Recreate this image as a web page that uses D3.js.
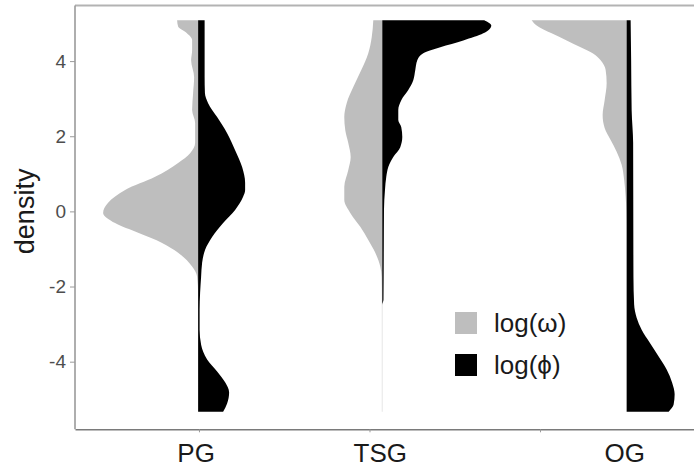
<!DOCTYPE html>
<html>
<head>
<meta charset="utf-8">
<script src="https://cdn.jsdelivr.net/npm/d3@7"></script>
<style>
  html, body { margin: 0; padding: 0; background: #fff; }
  svg { display: block; font-family: "Liberation Sans", Arial, sans-serif; }
</style>
</head>
<body>
<svg id="chart" width="694" height="467"></svg>
<script>
// Categories, their axis tick slots and where each split violin sits
const categories = ["PG", "TSG", "OG"];
const categoryTicks = [1, 2, 3];
const violinCenters = [0.995, 2.075, 3.508];
const yTicks = [-4, -2, 0, 2, 4];
const seriesNames = ["log(\u03C9)", "log(\u03D5)"];
const seriesColors = ["#bebebe", "#000000"];

// Half-violin density profiles: [value, density]
const pgOmega = [
  [5.09, 0.21], [4.92, 0.20], [4.76, 0.12], [4.56, 0.06], [4.29, 0.06], [4.02, 0.07],
  [3.57, 0.04], [3.15, 0.05], [2.70, 0.06], [2.35, 0.03], [1.82, 0.03], [1.55, 0.08],
  [1.29, 0.20], [0.92, 0.43], [0.57, 0.73], [0.23, 0.90], [-0.04, 0.95], [-0.31, 0.83],
  [-0.57, 0.60], [-0.84, 0.36], [-1.10, 0.20], [-1.47, 0.06], [-1.74, 0.01], [-2.2, 0], [-5.33, 0]
];
const pgPhi = [
  [5.09, 0.065], [4.5, 0.065], [3.6, 0.065], [3.15, 0.068], [2.88, 0.10], [2.51, 0.19],
  [2.08, 0.29], [1.63, 0.37], [1.18, 0.44], [0.76, 0.47], [0.57, 0.47], [0.39, 0.45],
  [0.04, 0.37], [-0.31, 0.25], [-0.68, 0.14], [-1.02, 0.07], [-1.37, 0.04], [-1.74, 0.03],
  [-2.16, 0.02], [-2.62, 0.015], [-3.15, 0.015], [-3.55, 0.03], [-3.94, 0.09], [-4.26, 0.19],
  [-4.55, 0.27], [-4.82, 0.31], [-5.11, 0.29], [-5.33, 0.25]
];
const tsgOmega = [
  [5.09, 0.09], [4.63, 0.106], [4.21, 0.14], [3.76, 0.21], [3.31, 0.29], [2.88, 0.356],
  [2.51, 0.38], [2.16, 0.37], [1.82, 0.34], [1.45, 0.316], [1.10, 0.34], [0.65, 0.38],
  [0.31, 0.38], [-0.04, 0.32], [-0.41, 0.22], [-0.76, 0.14], [-1.10, 0.07], [-1.47, 0.02],
  [-1.74, 0.007], [-2.35, 0.004], [-5.33, 0.004]
];
const tsgPhi = [
  [5.09, 1.02], [4.95, 1.09], [4.74, 1.01], [4.55, 0.81], [4.37, 0.58], [4.21, 0.41],
  [4.02, 0.35], [3.76, 0.33], [3.49, 0.31], [3.23, 0.26], [2.96, 0.19], [2.70, 0.16],
  [2.43, 0.16], [2.24, 0.19], [1.98, 0.20], [1.71, 0.18], [1.45, 0.11], [1.18, 0.06],
  [0.92, 0.04], [0.57, 0.027], [0.04, 0.017], [-1.02, 0.015], [-2.35, 0.012], [-2.49, 0], [-5.33, 0]
];
const ogOmega = [
  [5.09, 0.95], [4.95, 0.90], [4.74, 0.75], [4.55, 0.60], [4.37, 0.46], [4.21, 0.34],
  [4.02, 0.26], [3.76, 0.21], [3.41, 0.20], [2.96, 0.22], [2.56, 0.24], [2.22, 0.22],
  [1.90, 0.16], [1.59, 0.10], [1.24, 0.05], [0.84, 0.025], [0.39, 0.01], [0.04, 0.003],
  [-0.49, 0], [-5.33, 0]
];
const ogPhi = [
  [5.09, 0.04], [4.02, 0.045], [2.70, 0.05], [1.82, 0.065], [-1.74, 0.068], [-2.48, 0.075],
  [-2.83, 0.10], [-3.15, 0.15], [-3.49, 0.23], [-3.86, 0.32], [-4.21, 0.40], [-4.56, 0.455],
  [-4.87, 0.48], [-5.14, 0.47], [-5.33, 0.42]
];
const omegaProfiles = [pgOmega, tsgOmega, ogOmega];
const phiProfiles = [pgPhi, tsgPhi, ogPhi];

const svg = d3.select("#chart");
const panel = { left: 75, top: 5.5, right: 694, bottom: 429.3 };

const x = d3.scaleLinear().domain([0.273, 3.903]).range([panel.left, panel.right]);
const y = d3.scaleLinear().domain([-5.80, 5.48]).range([panel.bottom, panel.top]);
const halfWidth = d3.scaleLinear().domain([0, 1]).range([0, 100]);

const font = "\"Liberation Sans\", Arial, sans-serif";

// Split violins: omega to the left of the centre line, phi to the right
const g = svg.append("g");
categories.forEach((cat, i) => {
  const cx = x(violinCenters[i]);
  const left = d3.area()
    .y(d => y(d[0]))
    .x0(d => cx - halfWidth(d[1]))
    .x1(cx)
    .curve(d3.curveMonotoneY);
  const right = d3.area()
    .y(d => y(d[0]))
    .x0(cx)
    .x1(d => cx + halfWidth(d[1]))
    .curve(d3.curveMonotoneY);
  g.append("path").attr("d", left(omegaProfiles[i])).attr("fill", seriesColors[0]);
  g.append("path").attr("d", right(phiProfiles[i])).attr("fill", seriesColors[1]);
});

// Panel frame (top and left) and x axis line
svg.append("line")
  .attr("x1", panel.left).attr("x2", panel.right)
  .attr("y1", panel.top).attr("y2", panel.top)
  .attr("stroke", "#b3b3b3").attr("stroke-width", 2);

const yAxis = svg.append("g")
  .attr("transform", `translate(${panel.left},0)`)
  .call(d3.axisLeft(y).tickValues(yTicks).tickSize(5).tickPadding(4).tickSizeOuter(0));
yAxis.select(".domain").attr("stroke", "#9a9a9a").attr("stroke-width", 1.6)
  .attr("d", `M0,${panel.top}V${panel.bottom}`);
yAxis.selectAll(".tick line").attr("stroke", "#9a9a9a");
yAxis.selectAll(".tick text")
  .attr("font-family", font).attr("font-size", 19).attr("fill", "#4d4d4d")
  .text(d => d < 0 ? "-" + Math.abs(d) : d);

const xAxis = svg.append("g")
  .attr("transform", `translate(0,${panel.bottom})`)
  .call(d3.axisBottom(x).tickValues(categoryTicks).tickSize(3).tickSizeOuter(0).tickFormat(""));
xAxis.select(".domain").attr("stroke", "#7a7a7a").attr("stroke-width", 1.6);
xAxis.selectAll(".tick line").attr("stroke", "#9a9a9a");

// Category labels under each violin
svg.append("g").selectAll("text")
  .data(categories)
  .join("text")
  .attr("x", (d, i) => x(violinCenters[i]) - 2)
  .attr("y", 462)
  .attr("text-anchor", "middle")
  .attr("font-family", font).attr("font-size", 26).attr("fill", "#1a1a1a")
  .text(d => d);

// Y axis title
svg.append("text")
  .attr("transform", `translate(34,${y(0)}) rotate(-90)`)
  .attr("text-anchor", "middle")
  .attr("font-family", font).attr("font-size", 27).attr("fill", "#1a1a1a")
  .text("density");

// Legend
const legend = svg.append("g").attr("transform", "translate(455,312)");
seriesNames.forEach((name, i) => {
  legend.append("rect")
    .attr("x", 0).attr("y", i * 42)
    .attr("width", 22).attr("height", 22)
    .attr("fill", seriesColors[i]);
  legend.append("text")
    .attr("x", 39).attr("y", i * 42 + 20)
    .attr("font-family", font).attr("font-size", 26).attr("fill", "#1a1a1a")
    .text(name);
});
</script>
</body>
</html>
